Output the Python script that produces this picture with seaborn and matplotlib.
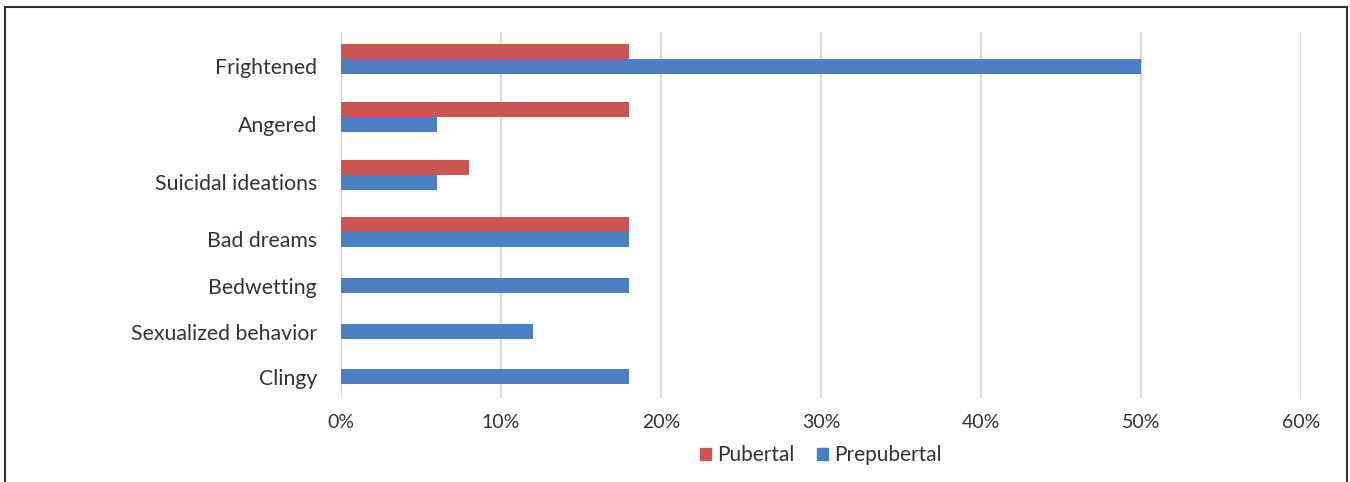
import numpy as np
import pandas as pd
import matplotlib
matplotlib.use("Agg")
import matplotlib.pyplot as plt
from matplotlib.patches import Rectangle
from matplotlib.ticker import PercentFormatter, MultipleLocator
import seaborn as sns

# ---- data ----
categories = ["Frightened", "Angered", "Suicidal ideations", "Bad dreams",
              "Bedwetting", "Sexualized behavior", "Clingy"]
pubertal = [18, 18, 8, 18, None, None, None]
prepubertal = [50, 6, 6, 18, 18, 12, 18]
series_names = ["Pubertal", "Prepubertal"]
colors = {"Pubertal": "#CB5551", "Prepubertal": "#4C7FC1"}

# ---- layout (pixel-like vertical positions of each category slot) ----
slot_centers = [59.3, 117.0, 174.7, 232.4, 285.8, 331.3, 376.8]
pair_offset = 7.5
label_shift = [6.8, 6.8, 6.8, 6.8, 0.5, 0.5, 0.5]

rows = []
for i, cat in enumerate(categories):
    paired = pubertal[i] is not None
    if paired:
        rows.append(dict(category=cat, group="Pubertal", value=pubertal[i] / 100,
                         ypos=slot_centers[i] - pair_offset))
        rows.append(dict(category=cat, group="Prepubertal", value=prepubertal[i] / 100,
                         ypos=slot_centers[i] + pair_offset))
    else:
        rows.append(dict(category=cat, group="Prepubertal", value=prepubertal[i] / 100,
                         ypos=slot_centers[i]))
df = pd.DataFrame(rows)

sns.set_style("white")
plt.rcParams["font.family"] = ["Lato", "DejaVu Sans"]

W, H = 1350, 482
fig = plt.figure(figsize=(W / 100, H / 100), dpi=100)
ax_top, ax_bot = 31.7, 397.7
ax = fig.add_axes([341 / W, (H - ax_bot) / H, (1301 - 341) / W, (ax_bot - ax_top) / H])

sns.barplot(data=df, x="value", y="ypos", hue="group", hue_order=series_names,
            palette=colors, saturation=1, orient="h", native_scale=True, dodge=False,
            width=1.0, errorbar=None, linewidth=0, ax=ax, legend=False, zorder=3)

ax.set_ylim(ax_bot, ax_top)
ax.set_xlim(0, 0.6)
ax.xaxis.set_major_locator(MultipleLocator(0.1))
ax.xaxis.set_major_formatter(PercentFormatter(1.0, decimals=0))
ax.set_yticks([c + s for c, s in zip(slot_centers, label_shift)])
ax.set_yticklabels(categories)
ax.set_xlabel("")
ax.set_ylabel("")
ax.grid(axis="x", color="#D9D9D9", linewidth=1.6, zorder=0)
ax.grid(axis="y", visible=False)
ax.set_axisbelow(True)
for s in ax.spines.values():
    s.set_visible(False)
ax.tick_params(axis="y", length=0, pad=17.3, labelsize=15.3, labelcolor="#333333")
ax.tick_params(axis="x", length=0, pad=12, labelsize=14, labelcolor="#333333")

handles = [Rectangle((0, 0), 1, 1, color=colors[n]) for n in series_names]
fig.legend(handles, series_names, loc="center", bbox_to_anchor=(821 / W, 1 - 455 / H),
           ncol=2, frameon=False, fontsize=15, handlelength=0.5, handleheight=0.5,
           handletextpad=0.3, columnspacing=1.1, labelcolor="#333333")

fig.patches.append(Rectangle((5 / W, -0.05), (1347 - 5) / W, 1.05 - 7 / H,
                             transform=fig.transFigure, fill=False,
                             edgecolor="#333333", linewidth=1.5))

fig.savefig("out.png", dpi=100)
